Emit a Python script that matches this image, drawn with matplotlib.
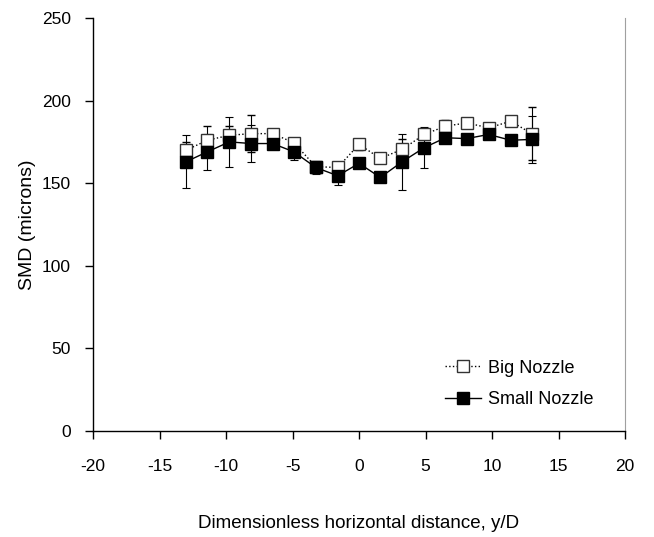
import matplotlib
matplotlib.use("Agg")
import matplotlib.pyplot as plt
import numpy as np

# y/D positions of the measurement stations
y_over_d = [-13.0, -11.4, -9.75, -8.1, -6.5, -4.9, -3.25, -1.6, 0.0,
            1.6, 3.25, 4.9, 6.5, 8.1, 9.75, 11.4, 13.0]

# SMD (microns) and error bars
big_smd = [170, 176, 179, 180, 180, 174.5, 160, 159.5, 173.5,
           165, 170.5, 179.5, 184.5, 186.5, 183.5, 187.5, 180]
big_err = [5, 8.5, 5.5, 11, 2.5, 3, 2, 1.5, 3.5,
           3, 6.5, 3, 4, 1, 1, 3, 16]
small_smd = [163, 169, 175, 174, 174, 169, 159.5, 154.5, 162,
             153.5, 163, 171.5, 177.5, 177, 179.5, 176, 176.5]
small_err = [16, 11, 15, 11, 2.5, 5, 4, 5.5, 2,
             2, 17, 12.5, 2, 2, 2, 2, 14]

xticks = [-20, -15, -10, -5, 0, 5, 10, 15, 20]
yticks = [0, 50, 100, 150, 200, 250]

plt.rcParams['font.family'] = ['Liberation Sans', 'DejaVu Sans']
plt.rcParams['axes.unicode_minus'] = False

fig = plt.figure(figsize=(6.54, 5.37), dpi=100)
ax = fig.add_axes([0.1422, 0.1974, 0.8135, 0.7691])

ax.errorbar(y_over_d, big_smd, yerr=big_err, color='black', ls=':', lw=1,
            marker='s', ms=8, mfc='white', mec='#333333', mew=1,
            ecolor='black', elinewidth=0.8, capsize=3, capthick=0.8,
            label='Big Nozzle')
ax.errorbar(y_over_d, small_smd, yerr=small_err, color='black', ls='-', lw=1,
            marker='s', ms=8, mfc='black', mec='black',
            ecolor='black', elinewidth=0.8, capsize=3, capthick=0.8,
            label='Small Nozzle')

ax.set_xlim(-20, 20)
ax.set_ylim(0, 250)
ax.set_xticks(xticks)
ax.set_yticks(yticks)
ax.tick_params(direction='out', length=6, width=1, labelsize=12.5, colors='black')
ax.tick_params(axis='x', pad=14)
ax.tick_params(axis='y', pad=10)

ax.spines['top'].set_visible(False)
ax.spines['right'].set_color('#a0a0a0')
ax.spines['left'].set_linewidth(1)
ax.spines['bottom'].set_linewidth(1)

ax.set_xlabel('Dimensionless horizontal distance, y/D', fontsize=13.5, labelpad=30)
ax.set_ylabel('SMD (microns)', fontsize=14, labelpad=4)

handles, labels = ax.get_legend_handles_labels()
handles = [h[0] for h in handles]
ax.legend(handles, labels, loc='lower right', bbox_to_anchor=(0.972, 0.016),
          frameon=False, handlelength=2.0, handletextpad=0.4,
          labelspacing=0.8, fontsize=13)

fig.savefig('out.png', dpi=100)
